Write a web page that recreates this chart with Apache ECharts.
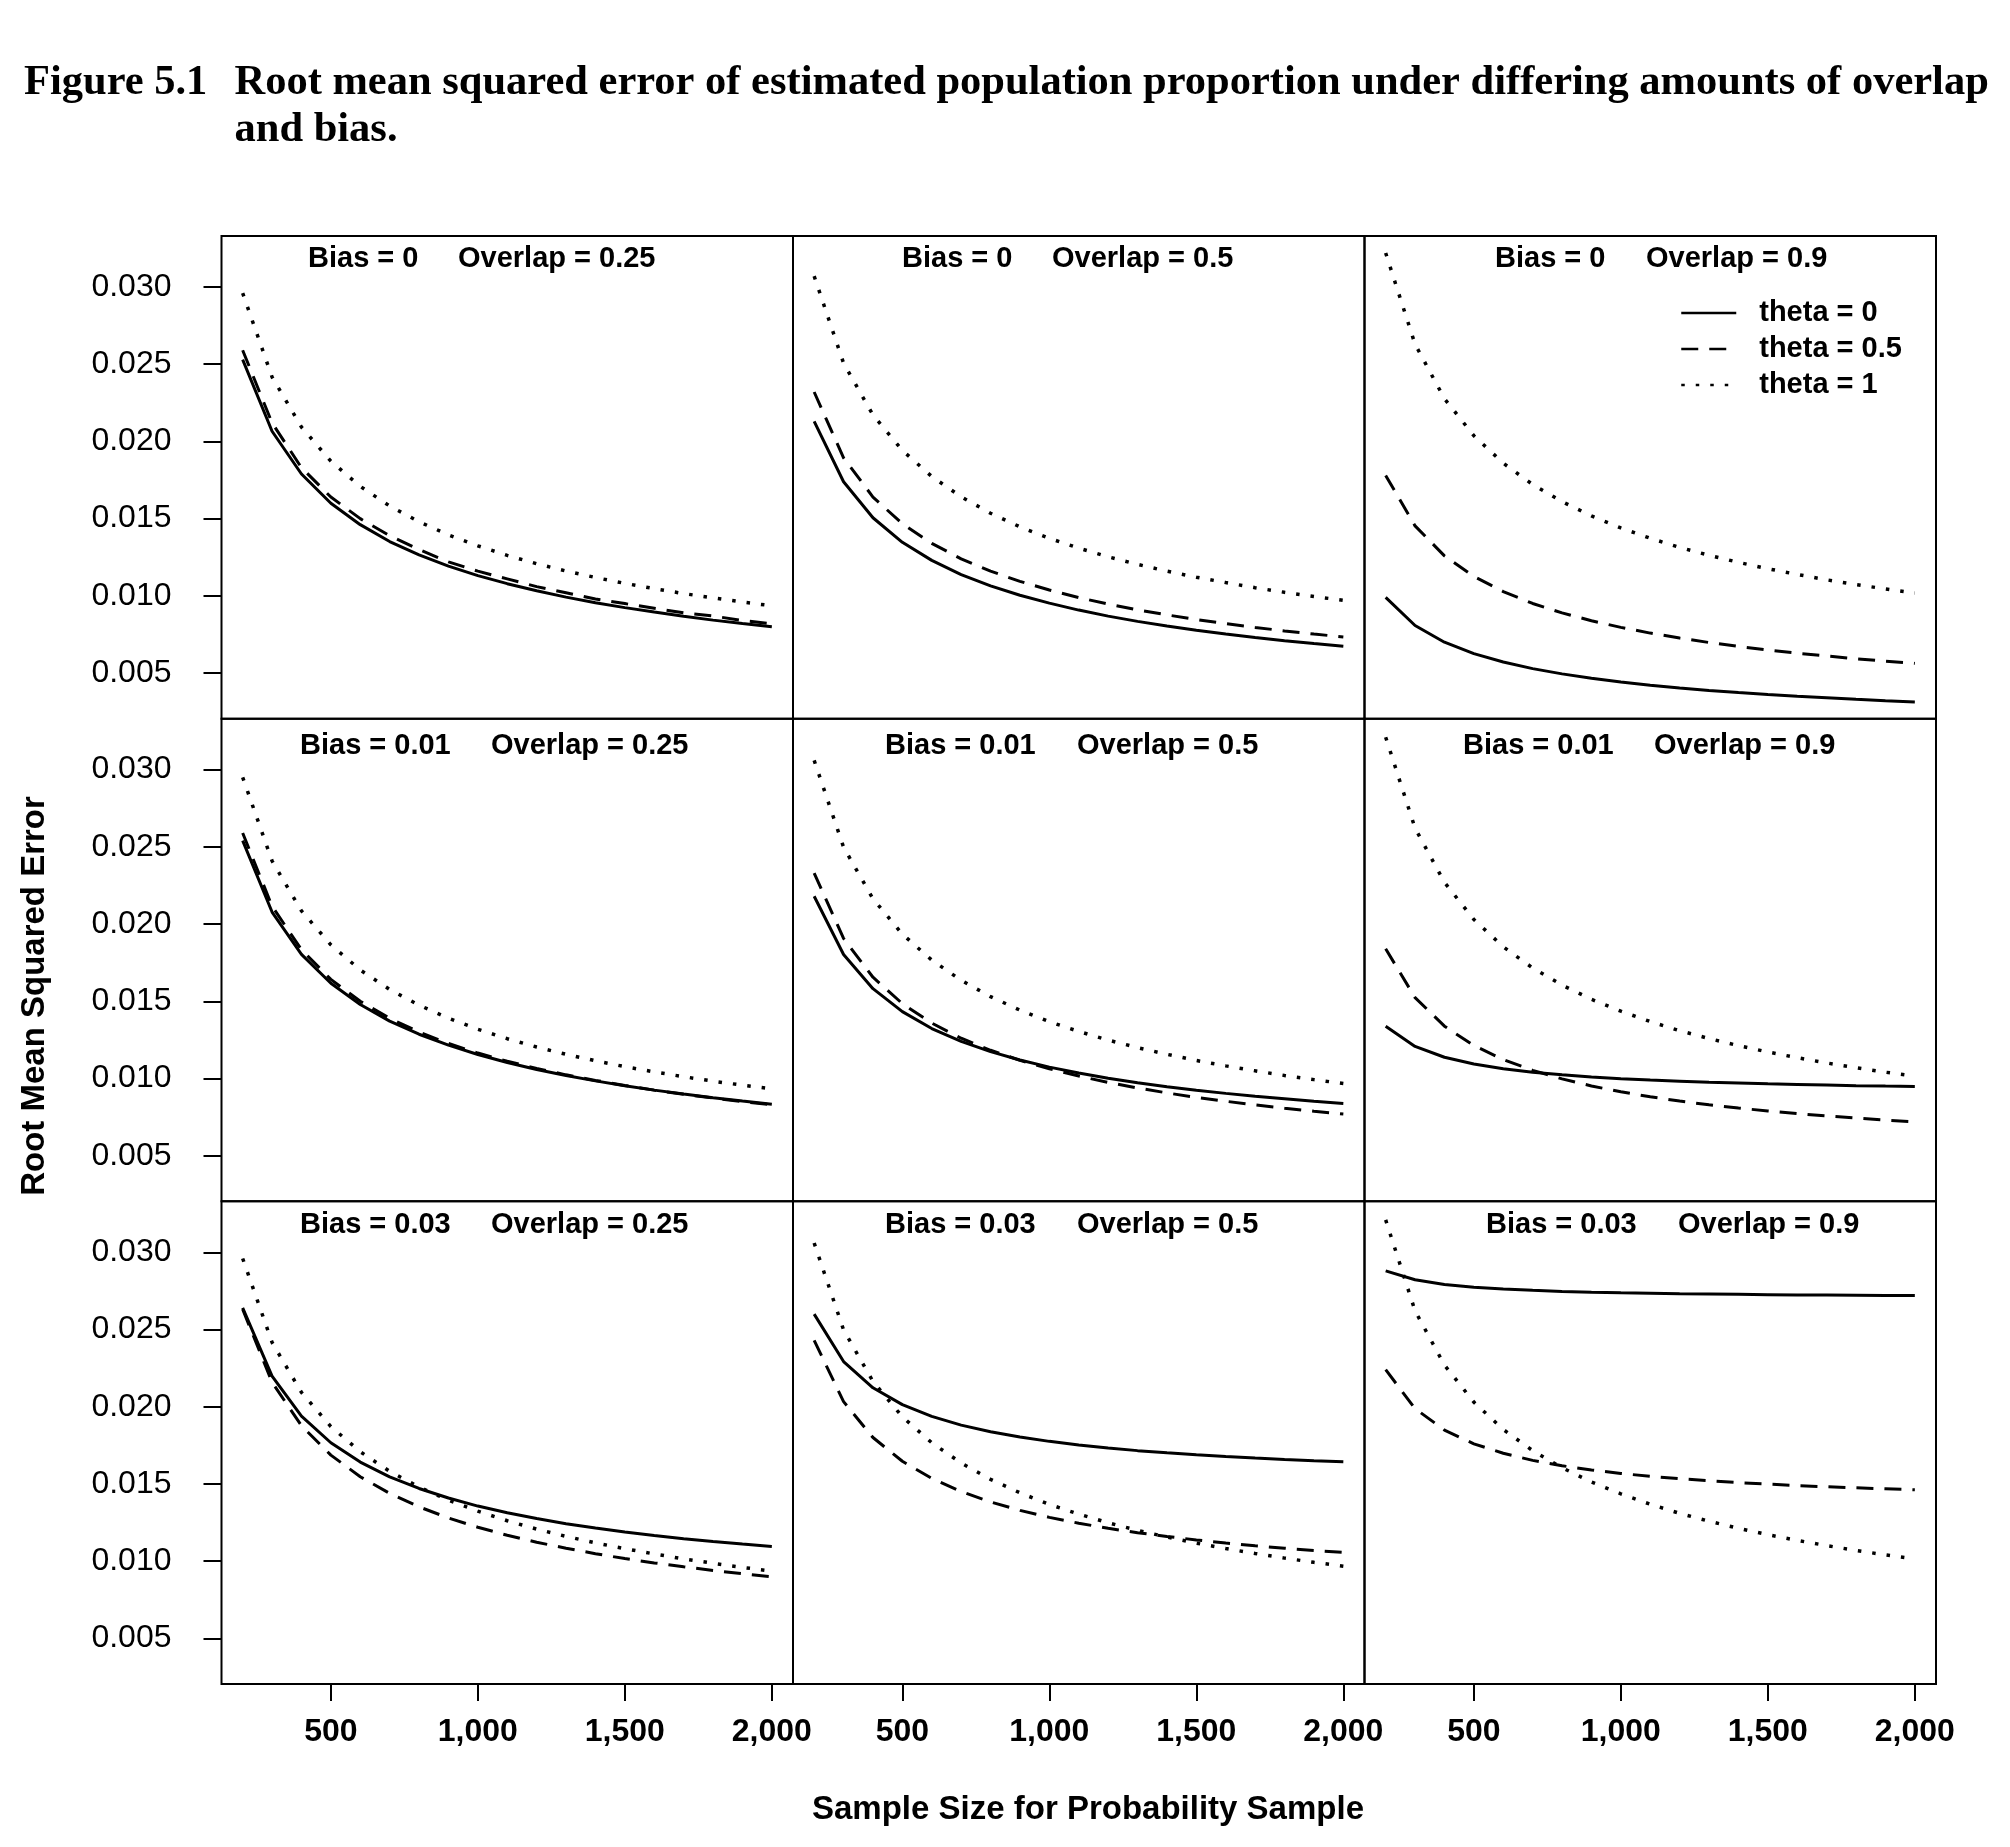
<!DOCTYPE html>
<html>
<head>
<meta charset="utf-8">
<script src="https://cdn.jsdelivr.net/npm/echarts@6/dist/echarts.min.js"></script>
<style>
html,body{margin:0;padding:0;background:#fff;}
#chart{width:2010px;height:1847px;}
</style>
</head>
<body>
<div id="chart"></div>
<script>
// ---------------- data ----------------
const sampleSizes = [200,300,400,500,600,700,800,900,1000,1100,1200,1300,1400,1500,1600,1700,1800,1900,2000];
const biasLevels = ['0','0.01','0.03'];
const overlapLevels = ['0.25','0.5','0.9'];
const thetaNames = ['theta = 0','theta = 0.5','theta = 1'];
const xTickValues = [500,1000,1500,2000];
const xTickLabels = ['500','1,000','1,500','2,000'];
const yTickValues = [0.005,0.010,0.015,0.020,0.025,0.030];
const yTickLabels = ['0.005','0.010','0.015','0.020','0.025','0.030'];

// Bias = 0
const b0_o25_t0  = [0.0253,0.02066,0.01789,0.0160,0.01461,0.01352,0.01265,0.01193,0.01131,0.01079,0.01033,0.00992,0.00956,0.00924,0.00895,0.00868,0.00843,0.00821,0.0080];
const b0_o25_t05 = [0.0259,0.0212,0.0183,0.0164,0.0150,0.0139,0.0130,0.0122,0.0116,0.0111,0.0106,0.0102,0.0098,0.0095,0.0092,0.0089,0.0087,0.0084,0.0082];
const b0_o25_t1  = [0.0296,0.02417,0.02093,0.01872,0.01709,0.01582,0.0148,0.01395,0.01324,0.01262,0.01208,0.01161,0.01119,0.01081,0.01047,0.01015,0.00987,0.0096,0.00936];
const b0_o50_t0  = [0.0213,0.01739,0.01506,0.01347,0.0123,0.01138,0.01065,0.01004,0.00953,0.00908,0.00869,0.00835,0.00805,0.00778,0.00753,0.00731,0.0071,0.00691,0.00674];
const b0_o50_t05 = [0.0232,0.01894,0.0164,0.01467,0.0134,0.0124,0.0116,0.01094,0.01038,0.00989,0.00947,0.0091,0.00877,0.00847,0.0082,0.00796,0.00773,0.00753,0.00734];
const b0_o50_t1  = [0.0307,0.02507,0.02171,0.01942,0.01773,0.01641,0.01535,0.01447,0.01373,0.01309,0.01253,0.01204,0.0116,0.01121,0.01086,0.01053,0.01023,0.00996,0.00971];
const b0_o90_t0  = [0.0099,0.00808,0.0070,0.00626,0.00572,0.00529,0.00495,0.00467,0.00443,0.00422,0.00404,0.00388,0.00374,0.00361,0.0035,0.0034,0.0033,0.00321,0.00313];
const b0_o90_t05 = [0.0178,0.01453,0.01259,0.01126,0.01028,0.00951,0.0089,0.00839,0.00796,0.00759,0.00727,0.00698,0.00673,0.0065,0.00629,0.00611,0.00593,0.00577,0.00563];
const b0_o90_t1  = [0.0322,0.02629,0.02277,0.02037,0.01859,0.01721,0.0161,0.01518,0.0144,0.01373,0.01314,0.01263,0.01217,0.01176,0.01139,0.01104,0.01073,0.01045,0.01018];
// Bias = 0.01
const b1_o25_t0  = [0.0254,0.02078,0.01804,0.01617,0.01479,0.01372,0.01287,0.01216,0.01156,0.01104,0.01059,0.0102,0.00985,0.00954,0.00925,0.0090,0.00876,0.00854,0.00834];
const b1_o25_t05 = [0.0259,0.02116,0.01834,0.01642,0.0150,0.0139,0.01301,0.01227,0.01165,0.01112,0.01065,0.01024,0.00988,0.00955,0.00925,0.00898,0.00874,0.00851,0.0083];
const b1_o25_t1  = [0.0295,0.02409,0.02086,0.01866,0.01703,0.01577,0.01475,0.01391,0.01319,0.01258,0.01204,0.01157,0.01115,0.01077,0.01043,0.01012,0.00983,0.00957,0.00933];
const b1_o50_t0  = [0.0218,0.01803,0.01582,0.01433,0.01324,0.01241,0.01174,0.0112,0.01074,0.01036,0.01002,0.00973,0.00947,0.00924,0.00904,0.00885,0.00869,0.00853,0.00839];
const b1_o50_t05 = [0.0233,0.01907,0.01656,0.01485,0.01359,0.01261,0.01183,0.01118,0.01063,0.01016,0.00975,0.00939,0.00907,0.00878,0.00853,0.00829,0.00808,0.00788,0.0077];
const b1_o50_t1  = [0.0306,0.02498,0.02164,0.01935,0.01767,0.01636,0.0153,0.01443,0.01368,0.01305,0.01249,0.0120,0.01157,0.01117,0.01082,0.0105,0.0102,0.00993,0.00968];
const b1_o90_t0  = [0.01338,0.01208,0.01138,0.01094,0.01063,0.01041,0.01024,0.0101,0.00999,0.0099,0.00983,0.00976,0.00971,0.00966,0.00962,0.00958,0.00954,0.00951,0.00949];
const b1_o90_t05 = [0.0184,0.01524,0.01339,0.01214,0.01123,0.01053,0.00998,0.00952,0.00914,0.00882,0.00854,0.0083,0.00809,0.0079,0.00773,0.00758,0.00744,0.00731,0.0072];
const b1_o90_t1  = [0.0321,0.02621,0.0227,0.0203,0.01853,0.01716,0.01605,0.01513,0.01436,0.01369,0.0131,0.01259,0.01213,0.01172,0.01135,0.01101,0.0107,0.01041,0.01015];
// Bias = 0.03
const b3_o25_t0  = [0.0264,0.02198,0.0194,0.01767,0.01642,0.01546,0.01471,0.01409,0.01357,0.01314,0.01276,0.01243,0.01215,0.01189,0.01167,0.01146,0.01128,0.01111,0.01096];
const b3_o25_t05 = [0.02631,0.02158,0.01877,0.01687,0.01547,0.01439,0.01352,0.0128,0.0122,0.01168,0.01123,0.01084,0.01049,0.01017,0.00989,0.00964,0.0094,0.00919,0.00899];
const b3_o25_t1  = [0.0296,0.02417,0.02093,0.01872,0.01709,0.01582,0.0148,0.01395,0.01324,0.01262,0.01208,0.01161,0.01119,0.01081,0.01047,0.01015,0.00987,0.0096,0.00936];
const b3_o50_t0  = [0.026,0.02293,0.02123,0.02014,0.01938,0.01881,0.01838,0.01804,0.01776,0.01753,0.01733,0.01716,0.01702,0.01689,0.01678,0.01668,0.01659,0.01651,0.01644];
const b3_o50_t05 = [0.0243,0.02033,0.01801,0.01647,0.01536,0.01451,0.01384,0.01329,0.01284,0.01246,0.01213,0.01185,0.0116,0.01138,0.01118,0.0110,0.01084,0.0107,0.01057];
const b3_o50_t1  = [0.0306,0.02498,0.02164,0.01935,0.01767,0.01636,0.0153,0.01443,0.01368,0.01305,0.01249,0.0120,0.01157,0.01117,0.01082,0.0105,0.0102,0.00993,0.00968];
const b3_o90_t0  = [0.0288,0.02822,0.02792,0.02774,0.02762,0.02754,0.02747,0.02742,0.02738,0.02735,0.02732,0.0273,0.02728,0.02726,0.02724,0.02723,0.02722,0.02721,0.0272];
const b3_o90_t05 = [0.0224,0.01988,0.01849,0.0176,0.01699,0.01653,0.01618,0.01591,0.01568,0.0155,0.01534,0.01521,0.01509,0.01499,0.0149,0.01482,0.01475,0.01469,0.01463];
const b3_o90_t1  = [0.0321,0.02621,0.0227,0.0203,0.01853,0.01716,0.01605,0.01513,0.01436,0.01369,0.0131,0.01259,0.01213,0.01172,0.01135,0.01101,0.0107,0.01041,0.01015];

const panelSeries = [
  [[b0_o25_t0,b0_o25_t05,b0_o25_t1],[b0_o50_t0,b0_o50_t05,b0_o50_t1],[b0_o90_t0,b0_o90_t05,b0_o90_t1]],
  [[b1_o25_t0,b1_o25_t05,b1_o25_t1],[b1_o50_t0,b1_o50_t05,b1_o50_t1],[b1_o90_t0,b1_o90_t05,b1_o90_t1]],
  [[b3_o25_t0,b3_o25_t05,b3_o25_t1],[b3_o50_t0,b3_o50_t05,b3_o50_t1],[b3_o90_t0,b3_o90_t05,b3_o90_t1]]
];

// ---------------- layout / style ----------------
const colLeft0 = 221.5, colW = 571.5;
const rowTop0 = 236, rowH = 482.67;
const xMin = 128, xMax = 2072;
const yMin = 0.00205, yMax = 0.0333;
const SANS = '"Liberation Sans", Arial, Helvetica, sans-serif';
const SERIF = '"Liberation Serif", "Times New Roman", serif';
const lineStyles = [
  {color:'#000', width:3, type:'solid'},
  {color:'#000', width:3, type:[17,11], cap:'butt'},
  {color:'#000', width:3.5, type:[3.5,11], cap:'butt'}
];
// title text positions inside panels [row][col] = [biasX, overlapX]
const stripPos = [
  [[308,458],[902,1052],[1495,1646]],
  [[300,491],[885,1077],[1463,1654]],
  [[300,491],[885,1077],[1486,1678]]
];
const stripY = [259, 745.5, 1225];

const grids = [], xAxes = [], yAxes = [], series = [];
for (let r = 0; r < 3; r++) {
  for (let c = 0; c < 3; c++) {
    const i = r * 3 + c;
    grids.push({
      left: colLeft0 + c * colW, top: rowTop0 + r * rowH, width: colW, height: rowH,
      show: true, borderColor: '#000', borderWidth: 2, backgroundColor: 'transparent',
      containLabel: false, outerBoundsMode: 'none'
    });
    xAxes.push({
      gridIndex: i, type: 'value', min: xMin, max: xMax,
      axisLine: {show: false}, splitLine: {show: false},
      axisTick: {show: r === 2, inside: false, length: 17, lineStyle: {color: '#000', width: 2}, customValues: xTickValues},
      axisLabel: {show: r === 2, customValues: xTickValues, margin: 32,
        formatter: v => xTickLabels[xTickValues.indexOf(v)],
        fontFamily: SANS, fontWeight: 'bold', fontSize: 32, color: '#000'}
    });
    yAxes.push({
      gridIndex: i, type: 'value', min: yMin, max: yMax,
      axisLine: {show: false}, splitLine: {show: false},
      axisTick: {show: c === 0, inside: false, length: 18, lineStyle: {color: '#000', width: 2}, customValues: yTickValues},
      axisLabel: {show: c === 0, customValues: yTickValues, margin: 50,
        formatter: v => yTickLabels[yTickValues.findIndex(t => Math.abs(t - v) < 1e-9)],
        fontFamily: SANS, fontSize: 32, color: '#000'}
    });
    for (let t = 0; t < 3; t++) {
      const vals = panelSeries[r][c][t];
      series.push({
        type: 'line', name: thetaNames[t], xAxisIndex: i, yAxisIndex: i,
        data: sampleSizes.map((n, k) => [n, vals[k]]),
        symbol: 'none', showSymbol: false, smooth: false, silent: true,
        lineStyle: lineStyles[t], itemStyle: {color: '#000'}, z: 3 - t
      });
    }
  }
}

const graphics = [];
const titleFont = 'bold 42.5px ' + SERIF;
graphics.push({type:'text', x: 24, y: 83, style:{text:'Figure 5.1', font: titleFont, fill:'#000', verticalAlign:'middle', textVerticalAlign:'middle'}});
graphics.push({type:'text', x: 234.5, y: 83, style:{text:'Root mean squared error of estimated population proportion under differing amounts of overlap', font: titleFont, fill:'#000', verticalAlign:'middle', textVerticalAlign:'middle'}});
graphics.push({type:'text', x: 234.5, y: 130, style:{text:'and bias.', font: titleFont, fill:'#000', verticalAlign:'middle', textVerticalAlign:'middle'}});
for (let r = 0; r < 3; r++) {
  for (let c = 0; c < 3; c++) {
    const p = stripPos[r][c];
    graphics.push({type:'text', x: p[0], y: stripY[r], style:{text:'Bias = ' + biasLevels[r], font:'bold 29px ' + SANS, fill:'#000', verticalAlign:'middle', textVerticalAlign:'middle'}});
    graphics.push({type:'text', x: p[1], y: stripY[r], style:{text:'Overlap = ' + overlapLevels[c], font:'bold 29px ' + SANS, fill:'#000', verticalAlign:'middle', textVerticalAlign:'middle'}});
  }
}
graphics.push({type:'text', x: 1088, y: 1810, style:{text:'Sample Size for Probability Sample', font:'bold 33px ' + SANS, fill:'#000', align:'center', textAlign:'center', verticalAlign:'middle', textVerticalAlign:'middle'}});
graphics.push({type:'text', x: 35, y: 996, rotation: Math.PI / 2, style:{text:'Root Mean Squared Error', font:'bold 33px ' + SANS, fill:'#000', align:'center', textAlign:'center', verticalAlign:'middle', textVerticalAlign:'middle'}});

const chart = echarts.init(document.getElementById('chart'), null, {renderer: 'canvas'});
chart.setOption({
  backgroundColor: '#fff',
  animation: false,
  grid: grids, xAxis: xAxes, yAxis: yAxes, series: series,
  legend: {
    data: thetaNames, orient: 'vertical', left: 1675, top: 290,
    itemWidth: 55, itemHeight: 20, itemGap: 0, selectedMode: false,
    itemStyle: {color: 'rgba(0,0,0,0)', borderColor: 'rgba(0,0,0,0)', borderWidth: 0, opacity: 0},
    lineStyle: {width: 2.5},
    textStyle: {fontFamily: SANS, fontWeight: 'bold', fontSize: 29, color: '#000', lineHeight: 36, padding: [0,0,0,18]}
  },
  graphic: graphics
});
</script>
</body>
</html>
